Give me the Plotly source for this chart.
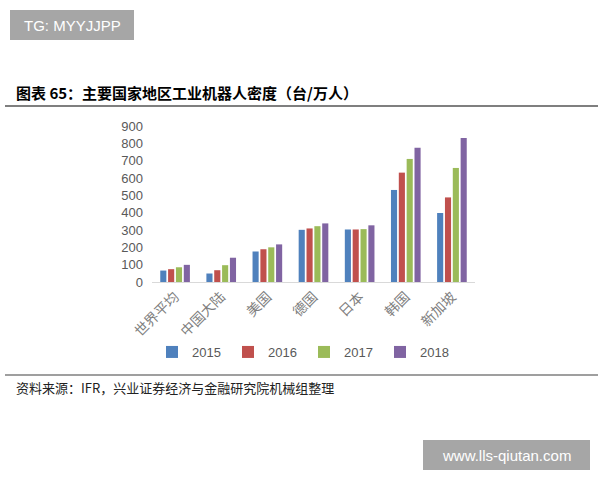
import plotly.graph_objects as go

categories = ["世界平均", "中国大陆", "美国", "德国", "日本", "韩国", "新加坡"]
years = ["2015", "2016", "2017", "2018"]
v2015 = [66, 49, 176, 301, 303, 531, 398]
v2016 = [74, 68, 189, 309, 303, 631, 488]
v2017 = [85, 97, 200, 322, 305, 710, 658]
v2018 = [99, 140, 217, 338, 327, 774, 831]
series = [v2015, v2016, v2017, v2018]
colors = ["#4F81BD", "#C0504D", "#9BBB59", "#8064A2"]
yticks = [0, 100, 200, 300, 400, 500, 600, 700, 800, 900]

W, H = 600, 480
def px(x):
    return x / W
def py(y):
    return 1 - y / H

fig = go.Figure()
for name, vals, c in zip(years, series, colors):
    fig.add_trace(go.Bar(x=categories, y=vals, name=name, marker_color=c,
                         marker_line_width=0))

fig.update_layout(
    width=W, height=H,
    margin=dict(l=0, r=0, t=0, b=0),
    paper_bgcolor="white", plot_bgcolor="white",
    barmode="group", bargap=0.32, bargroupgap=0.22,
    font=dict(family="Liberation Sans, Arial, sans-serif", color="#595959", size=13),
    xaxis=dict(domain=[px(152), px(475)], tickangle=-45,
               tickfont=dict(family="Noto Sans CJK SC", size=14, color="#7f7f7f"),
               showline=True, linecolor="#d9d9d9", linewidth=1,
               ticks="", showgrid=False, automargin=False),
    yaxis=dict(domain=[py(282), py(126)], range=[0, 900], tickvals=yticks,
               showgrid=False, zeroline=False, showline=False, ticks="",
               ticklabelstandoff=8,
               tickfont=dict(size=13, color="#595959"), automargin=False),
    legend=dict(orientation="h", x=px(304), xanchor="center", y=py(352),
                yanchor="middle", font=dict(size=13, color="#595959"),
                entrywidth=31, itemwidth=30, bgcolor="rgba(0,0,0,0)"),
)

shapes = [
    dict(type="rect", xref="paper", yref="paper", x0=px(10), x1=px(134),
         y0=py(40), y1=py(10), fillcolor="#a6a6a6", line_width=0),
    dict(type="line", xref="paper", yref="paper", x0=px(5), x1=px(598),
         y0=py(106), y1=py(106), line=dict(color="#7f7f7f", width=2)),
    dict(type="line", xref="paper", yref="paper", x0=px(5), x1=px(598),
         y0=py(375), y1=py(375), line=dict(color="#7f7f7f", width=1.5)),
    dict(type="rect", xref="paper", yref="paper", x0=px(423), x1=px(590),
         y0=py(470), y1=py(440), fillcolor="#a6a6a6", line_width=0),
]
fig.update_layout(shapes=shapes)

annotations = [
    dict(text="TG: MYYJJPP", x=px(72), y=py(25), xanchor="center", yanchor="middle",
         font=dict(family="Liberation Sans", size=15, color="white")),
    dict(text="<b>图表 65：主要国家地区工业机器人密度（台/万人）</b>", x=px(14), y=py(93),
         xanchor="left", yanchor="middle",
         font=dict(family="Noto Sans CJK SC", size=15, color="black")),
    dict(text="资料来源：IFR，兴业证券经济与金融研究院机械组整理", x=px(14), y=py(387),
         xanchor="left", yanchor="middle",
         font=dict(family="Noto Sans CJK SC", size=13, color="#222222")),
    dict(text="www.lls-qiutan.com", x=px(506), y=py(455), xanchor="center", yanchor="middle",
         font=dict(family="Liberation Sans", size=15, color="white")),
]
for a in annotations:
    a.update(xref="paper", yref="paper", showarrow=False)
fig.update_layout(annotations=annotations)

fig.write_html("out.html", config={"displayModeBar": False},
               post_script="document.body.style.margin='0px';document.body.style.overflow='hidden';")
